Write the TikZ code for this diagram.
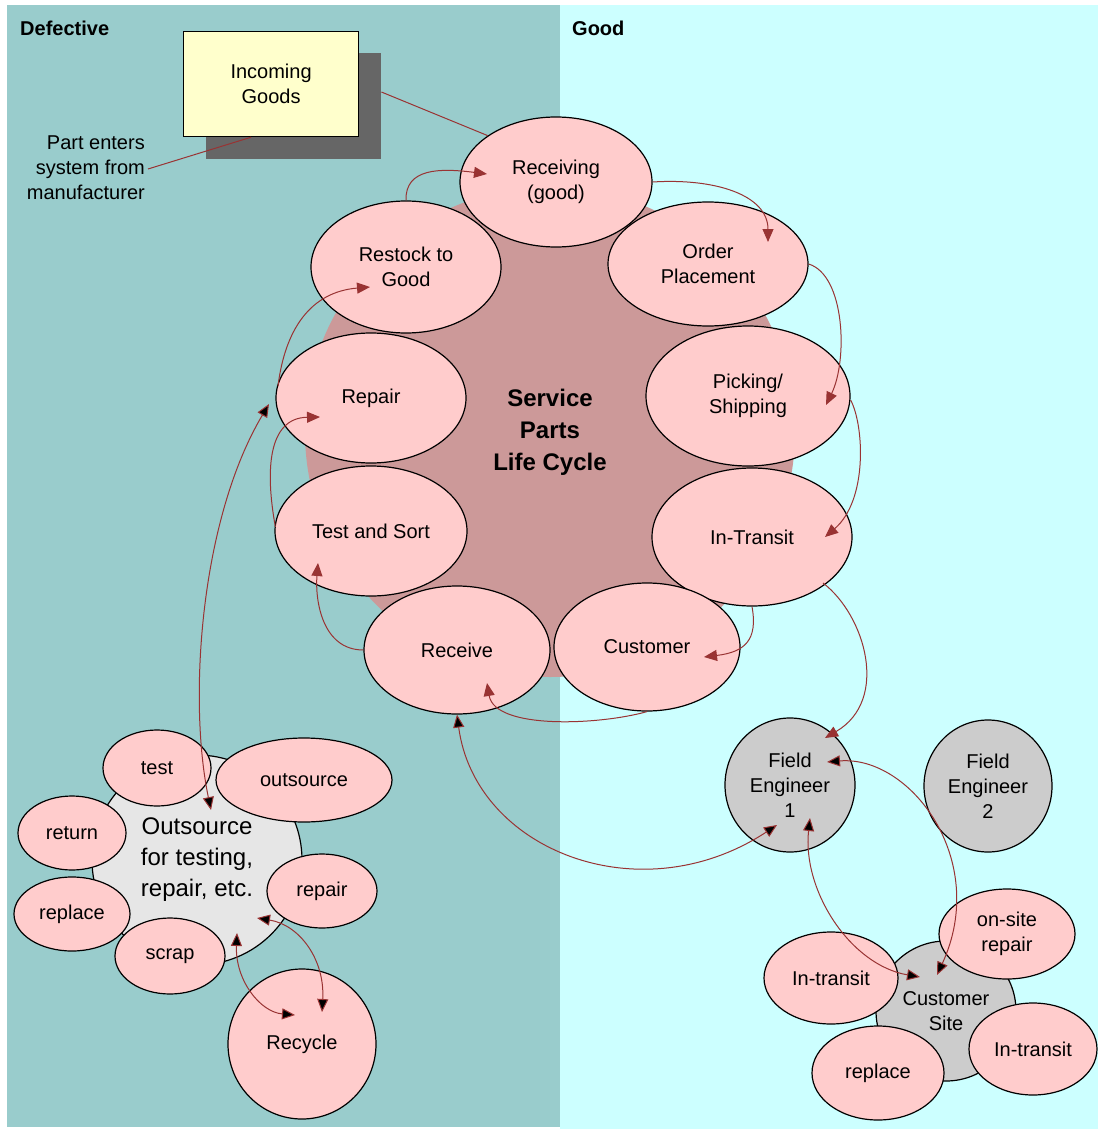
\documentclass[tikz,border=0pt]{standalone}
\usepackage{fontspec}
\setmainfont{Liberation Sans}
\usetikzlibrary{shapes.geometric,arrows.meta,calc}
\definecolor{defbg}{HTML}{99CCCC}
\definecolor{goodbg}{HTML}{CCFFFF}
\definecolor{hubc}{HTML}{CC9999}
\definecolor{pinkc}{HTML}{FFCCCC}
\definecolor{yelc}{HTML}{FFFFCC}
\definecolor{shadc}{HTML}{666666}
\definecolor{grayc}{HTML}{CCCCCC}
\definecolor{lgrayc}{HTML}{E6E6E6}
\definecolor{arrc}{HTML}{993333}
\begin{document}
\begin{tikzpicture}[x=1pt,y=-1pt,
  base/.style={font=\fontsize{20}{25}\selectfont, align=center, inner sep=0pt, text=black},
  oval/.style={base, ellipse, draw=black, line width=1.2pt, fill=pinkc},
  grayoval/.style={base, ellipse, draw=black, line width=1.2pt, fill=grayc},
  hdr/.style={font=\fontsize{20}{24}\selectfont\bfseries, anchor=west, inner sep=0pt},
  arr/.style={draw=arrc, line width=1pt, -{Triangle[length=13pt,width=11pt,fill=arrc]}},
  dbl/.style={draw=arrc, line width=1pt, {Triangle[length=13pt,width=11pt,fill=black]}-{Triangle[length=13pt,width=11pt,fill=black]}},
  plain/.style={draw=arrc, line width=1pt}
]
\useasboundingbox (0,0) rectangle (1098,1129);
% backgrounds
\fill[defbg] (7,5) rectangle (560,1127);
\fill[goodbg] (560,5) rectangle (1098,1129);
\node[hdr] (deflbl) at (20,28) {Defective};
\node[hdr] (goodlbl) at (572,28) {Good};

% central hub
\node[base, circle, fill=hubc, minimum size=490pt, font=\fontsize{24}{32}\selectfont\bfseries] (hub) at (550,432) {Service\\Parts\\Life Cycle};

% incoming goods
\node[fill=shadc, minimum width=175pt, minimum height=106pt, anchor=north west, inner sep=0pt] (shadow) at (206,53) {};
\node[base, fill=yelc, draw=black, line width=1.2pt, minimum width=175pt, minimum height=105pt, anchor=north west] (incoming) at (183,31) {Incoming\\Goods};
\node[base, align=right, anchor=east] (partnote) at (145,168) {Part enters\\system from\\manufacturer};

% cycle ellipses
\node[oval, minimum width=190pt, minimum height=132pt] (restock) at (406,267) {Restock to\\Good};
\node[oval, minimum width=192pt, minimum height=130pt] (rcvgood) at (556,182) {Receiving\\(good)};
\node[oval, minimum width=200pt, minimum height=124pt] (order) at (708,264) {Order\\Placement};
\node[oval, minimum width=204pt, minimum height=140pt] (picking) at (748,396) {Picking/\\Shipping};
\node[oval, minimum width=200pt, minimum height=138pt] (intransit) at (752,537) {In-Transit};
\node[oval, minimum width=186pt, minimum height=128pt] (customer) at (647,647) {Customer};
\node[oval, minimum width=186pt, minimum height=128pt] (receive) at (457,650) {Receive};
\node[oval, minimum width=192pt, minimum height=130pt] (testsort) at (371,531) {Test and Sort};
\node[oval, minimum width=190pt, minimum height=130pt] (repair) at (371,398) {Repair};

% outsource cluster
\node[base, circle, draw=black, line width=1.2pt, fill=lgrayc, minimum size=210pt, font=\fontsize{24}{31}\selectfont] (outhub) at (197,860) {Outsource\\for testing,\\repair, etc.};
\node[oval, minimum width=108pt, minimum height=76pt] (test) at (157,768) {test};
\node[oval, minimum width=176pt, minimum height=84pt] (outsrc) at (304,780) {outsource};
\node[oval, minimum width=108pt, minimum height=74pt] (return) at (72,833) {return};
\node[oval, minimum width=116pt, minimum height=74pt] (replaceL) at (72,914) {replace};
\node[oval, minimum width=110pt, minimum height=74pt] (repairS) at (322,891) {repair};
\node[oval, minimum width=110pt, minimum height=76pt] (scrap) at (170,956) {scrap};
\node[oval, minimum width=148pt, minimum height=150pt] (recycle) at (302,1044) {Recycle};

% field engineers and customer site
\node[grayoval, minimum width=130pt, minimum height=134pt] (fe1) at (790,785) {Field\\Engineer\\1};
\node[grayoval, minimum width=128pt, minimum height=132pt] (fe2) at (988,786) {Field\\Engineer\\2};
\node[grayoval, circle, minimum size=140pt] (custsite) at (946,1011) {Customer\\Site};
\node[oval, minimum width=136pt, minimum height=90pt] (onsite) at (1007,934) {on-site\\repair};
\node[oval, minimum width=134pt, minimum height=92pt] (intrL) at (831,978) {In-transit};
\node[oval, minimum width=128pt, minimum height=92pt] (intrR) at (1033,1049) {In-transit};
\node[oval, minimum width=132pt, minimum height=94pt] (replaceR) at (878,1073) {replace};

% plain connectors
\draw[plain] ($(shadow.north east)+(0,39)$) -- (rcvgood.north west);
\draw[plain] ($(partnote.east)+(3,1)$) -- ($(incoming.south)+(-20,0)$);

% cycle arrows
\draw[arr] (restock.north) .. controls (405,168) and (440,168) .. ($(rcvgood)+(-69,-8)$);
\draw[arr] (rcvgood.east) .. controls (715,178) and (768,195) .. ($(order)+(60,-22)$);
\draw[arr] (order.east) .. controls (845,275) and (848,360) .. ($(picking)+(78,9)$);
\draw[arr] ($(picking.east)+(0,4)$) .. controls (864,425) and (868,500) .. ($(intransit)+(73,0)$);
\draw[arr] (intransit.south) .. controls (758,640) and (745,652) .. ($(customer)+(57,10)$);
\draw[arr] (customer.south) .. controls (600,725) and (495,730) .. ($(receive)+(30,33)$);
\draw[arr] (receive.west) .. controls (322,650) and (315,600) .. ($(testsort)+(-53,32)$);
\draw[arr] ($(testsort.west)+(1,-4)$) .. controls (265,470) and (268,418) .. ($(repair)+(-51,19)$);
\draw[arr] ($(repair)+(-93,-12)$) .. controls (285,330) and (310,292) .. ($(restock)+(-36,20)$);

% other arrows
\draw[dbl] ($(repair)+(-102,6)$) .. controls (200,520) and (188,700) .. ($(outhub)+(14,-50)$);
\draw[dbl] (receive.south) .. controls (475,850) and (640,915) .. ($(fe1)+(-13,40)$);
\draw[arr] ($(intransit)+(71,46)$) .. controls (865,615) and (890,700) .. ($(fe1)+(35,-47)$);
\draw[dbl] ($(fe1)+(20,33)$) .. controls (802,890) and (850,965) .. ($(custsite)+(-26,-34)$);
\draw[dbl] ($(fe1)+(37,-23)$) .. controls (910,755) and (990,860) .. ($(custsite)+(-9,-36)$);
\draw[dbl] ($(outhub)+(40,73)$) .. controls (235,980) and (260,1012) .. ($(recycle)+(-7,-29)$);
\draw[dbl] ($(outhub)+(60,58)$) .. controls (300,925) and (325,960) .. ($(recycle)+(20,-32)$);
\end{tikzpicture}
\end{document}
